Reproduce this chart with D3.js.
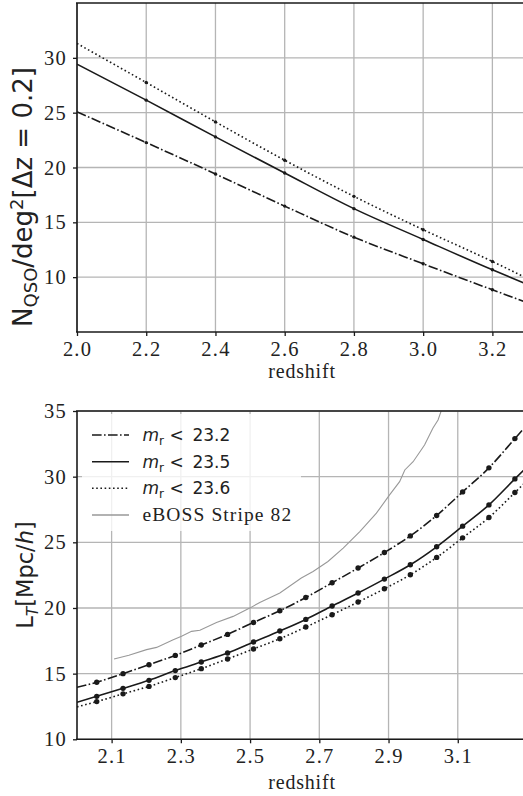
<!DOCTYPE html>
<html><head><meta charset="utf-8">
<script src="https://cdn.jsdelivr.net/npm/d3@7"></script>
<style>body{margin:0;background:#fff}svg{display:block}.serif{font-family:'Liberation Serif',serif}</style>
</head><body>
<svg id="c" width="523" height="796"></svg>
<script>
// ---------- data: top panel (N_QSO per deg^2 per dz=0.2) ----------
const topZ = [2.0, 2.2, 2.4, 2.6, 2.8, 3.0, 3.2, 3.3];
const topMarkZ = [2.2, 2.4, 2.6, 2.8, 3.0, 3.2];
const topDash = [25.07, 22.27, 19.41, 16.48, 13.65, 11.22, 8.85, 7.68];
const topSolid = [29.42, 26.14, 22.79, 19.50, 16.25, 13.44, 10.67, 9.35];
const topDot = [31.31, 27.75, 24.16, 20.66, 17.37, 14.33, 11.43, 9.90];
const topXTicks = [2.0, 2.2, 2.4, 2.6, 2.8, 3.0, 3.2];
const topYTicks = [10, 15, 20, 25, 30];

// ---------- data: bottom panel (L_T in Mpc/h) ----------
const botMarkZ = [2.057, 2.133, 2.208, 2.284, 2.359, 2.435, 2.510, 2.586, 2.661, 2.737, 2.812, 2.888, 2.963, 3.039, 3.114, 3.190, 3.265];
const botDash = [14.34, 15.00, 15.68, 16.39, 17.18, 17.99, 18.90, 19.79, 20.80, 21.92, 23.04, 24.22, 25.49, 27.04, 28.84, 30.67, 32.90];
const botSolid = [13.27, 13.88, 14.49, 15.23, 15.89, 16.57, 17.41, 18.25, 19.13, 20.15, 21.14, 22.20, 23.29, 24.66, 26.23, 27.85, 29.83];
const botDot = [12.87, 13.46, 14.03, 14.70, 15.38, 16.12, 16.88, 17.66, 18.55, 19.49, 20.45, 21.46, 22.53, 23.85, 25.34, 26.89, 28.79];
const botEnds = { z0: 2.0, z1: 3.3, dash: [13.96, 33.95], solid: [12.82, 30.75], dot: [12.47, 29.70] };
const ebossZ = [2.107, 2.150, 2.201, 2.230, 2.278, 2.302, 2.331, 2.355, 2.403, 2.451, 2.499, 2.528, 2.586, 2.648, 2.682, 2.725, 2.769, 2.817, 2.865, 2.903, 2.932, 2.947, 2.971, 3.004, 3.028, 3.043, 3.060];
const ebossL = [16.12, 16.40, 16.83, 17.00, 17.58, 17.84, 18.22, 18.30, 18.90, 19.36, 19.99, 20.42, 21.14, 22.28, 22.78, 23.54, 24.56, 25.82, 27.22, 28.61, 29.62, 30.51, 31.14, 32.41, 33.68, 34.32, 35.60];
const botXTicks = [2.1, 2.3, 2.5, 2.7, 2.9, 3.1];
const botYTicks = [10, 15, 20, 25, 30, 35];
const legendLabels = ["23.2", "23.5", "23.6", "eBOSS Stripe 82"];

// ---------- drawing ----------
const svg = d3.select("#c");
const INK = "#1a1a1a", GRID = "#b5b5b5";
const SERIF = "'Liberation Serif', serif", SANS = "'DejaVu Sans', sans-serif";
const L = 77, R = 527;

function panel(top, bottom, yDomain, xTicks, yTicks, id) {
  const x = d3.scaleLinear().domain([2.0, 3.3]).range([L, R]);
  const y = d3.scaleLinear().domain(yDomain).range([bottom, top]);
  const g = svg.append("g");
  g.append("clipPath").attr("id", id).append("rect")
    .attr("x", L).attr("y", top).attr("width", R - L).attr("height", bottom - top);
  g.selectAll(".gx").data(xTicks).join("line")
    .attr("x1", d => x(d)).attr("x2", d => x(d)).attr("y1", top).attr("y2", bottom)
    .attr("stroke", GRID).attr("stroke-width", 1.3);
  g.selectAll(".gy").data(yTicks).join("line")
    .attr("x1", L).attr("x2", R).attr("y1", d => y(d)).attr("y2", d => y(d))
    .attr("stroke", GRID).attr("stroke-width", 1.3);
  const plot = g.append("g").attr("clip-path", `url(#${id})`);
  return { x, y, g, plot, top, bottom };
}

function axes(p, xTicks, yTicks, xFmt, yFmt, xLabelY) {
  const ax = p.g.append("g").attr("transform", `translate(0,${p.bottom})`)
    .call(d3.axisBottom(p.x).tickValues(xTicks).tickFormat(xFmt).tickSizeInner(4).tickSizeOuter(0).tickPadding(5));
  const ay = p.g.append("g").attr("transform", `translate(${L},0)`)
    .call(d3.axisLeft(p.y).tickValues(yTicks).tickFormat(yFmt).tickSizeInner(4).tickSizeOuter(0).tickPadding(6));
  [ax, ay].forEach(a => {
    a.attr("font-family", SERIF).attr("font-size", 20.5).attr("class", "serif");
    a.select(".domain").remove();
    a.selectAll(".tick line").attr("stroke", INK).attr("stroke-width", 1.3);
    a.selectAll(".tick text").attr("fill", "#222").attr("class", "serif")
      .style("font-family", SERIF).style("font-size", "20.5px").style("letter-spacing", "1.2px");
  });
  ax.selectAll(".tick text").attr("dy", "0.71em");
  p.g.append("line").attr("x1", L).attr("x2", L).attr("y1", p.top).attr("y2", p.bottom).attr("stroke", INK).attr("stroke-width", 1.6);
  p.g.append("line").attr("x1", L - 1).attr("x2", R).attr("y1", p.bottom).attr("y2", p.bottom).attr("stroke", INK).attr("stroke-width", 1.6);
  p.g.append("line").attr("x1", L - 1).attr("x2", R).attr("y1", p.top).attr("y2", p.top).attr("stroke", INK).attr("stroke-width", 1.6);
  p.g.append("text").attr("class", "serif").attr("x", (L + 523) / 2 + 2).attr("y", xLabelY).attr("text-anchor", "middle")
    .style("font-family", SERIF).style("font-size", "20px").style("letter-spacing", "0.8px").attr("fill", "#222").text("redshift");
}

function centerVertical(t, cy) {
  const w = t.node().getComputedTextLength();
  t.attr("x", -cy - w / 2);
}

const styles = {
  dash: { dash: "9.6,2.4,1.6,2.4", w: 1.6 },
  solid: { dash: null, w: 1.6 },
  dot: { dash: "1.6,2.6", w: 1.6 }
};

// ---------- top panel ----------
const pt = panel(3, 332, [5, 35], topXTicks, topYTicks, "clipTop");
const lineTop = d3.line().x(d => pt.x(d[0])).y(d => pt.y(d[1])).curve(d3.curveMonotoneX);
[["dash", topDash], ["solid", topSolid], ["dot", topDot]].forEach(([k, vals]) => {
  pt.plot.append("path").datum(topZ.map((z, i) => [z, vals[i]]))
    .attr("d", lineTop).attr("fill", "none").attr("stroke", INK)
    .attr("stroke-width", styles[k].w).attr("stroke-dasharray", styles[k].dash);
  pt.plot.selectAll(null).data(topMarkZ).join("circle")
    .attr("cx", d => pt.x(d)).attr("cy", d => pt.y(vals[topZ.indexOf(d)]))
    .attr("r", 1.7).attr("fill", INK);
});
axes(pt, topXTicks, topYTicks, d3.format(".1f"), d3.format("d"), 378);
(function () {
  const t = svg.append("text").attr("transform", "translate(32,0) rotate(-90)")
    .attr("font-family", SANS).attr("font-size", 26).attr("fill", "#222");
  t.append("tspan").text("N");
  t.append("tspan").attr("dy", 5).attr("font-size", 18).text("QSO");
  t.append("tspan").attr("dy", -5).text("/deg");
  t.append("tspan").attr("dy", -9).attr("font-size", 18).text("2");
  t.append("tspan").attr("dy", 9).text("[Δz = 0.2]");
  centerVertical(t, 197);
})();

// ---------- bottom panel ----------
const pb = panel(411, 739.3, [10, 35], botXTicks, botYTicks, "clipBot");
const lineBot = d3.line().x(d => pb.x(d[0])).y(d => pb.y(d[1])).curve(d3.curveMonotoneX);
pb.plot.append("path").datum(ebossZ.map((z, i) => [z, ebossL[i]]))
  .attr("d", d3.line().x(d => pb.x(d[0])).y(d => pb.y(d[1])))
  .attr("fill", "none").attr("stroke", "#999").attr("stroke-width", 1.1);
[["dash", botDash], ["solid", botSolid], ["dot", botDot]].forEach(([k, vals]) => {
  const pts = [[botEnds.z0, botEnds[k][0]]].concat(botMarkZ.map((z, i) => [z, vals[i]]), [[botEnds.z1, botEnds[k][1]]]);
  pb.plot.append("path").datum(pts).attr("d", lineBot).attr("fill", "none").attr("stroke", INK)
    .attr("stroke-width", styles[k].w).attr("stroke-dasharray", styles[k].dash);
  pb.plot.selectAll(null).data(botMarkZ.map((z, i) => [z, vals[i]])).join("circle")
    .attr("cx", d => pb.x(d[0])).attr("cy", d => pb.y(d[1])).attr("r", 2.7).attr("fill", INK);
});
axes(pb, botXTicks, botYTicks, d3.format(".1f"), d3.format("d"), 789);
(function () {
  const lg = svg.append("g");
  lg.append("rect").attr("x", 82).attr("y", 414).attr("width", 219).attr("height", 117)
    .attr("fill", "#fff").attr("fill-opacity", 0.8);
  const rows = [435, 461.7, 488.3, 515];
  const ks = ["dash", "solid", "dot"];
  rows.forEach((ry, i) => {
    const ln = lg.append("line").attr("x1", 92).attr("x2", 129).attr("y1", ry).attr("y2", ry);
    if (i < 3) {
      ln.attr("stroke", INK).attr("stroke-width", 1.6).attr("stroke-dasharray", styles[ks[i]].dash);
      const t = lg.append("text").attr("x", 142.5).attr("y", ry + 6).attr("font-family", SANS)
        .attr("font-size", 17).attr("fill", "#222");
      t.append("tspan").attr("font-style", "italic").text("m");
      t.append("tspan").attr("dy", 4).attr("font-size", 12).text("r");
      t.append("tspan").attr("dy", -4).text(" < \u2009" + legendLabels[i]);
    } else {
      ln.attr("stroke", "#999").attr("stroke-width", 1.6);
      lg.append("text").attr("class", "serif").attr("x", 142.5).attr("y", ry + 6)
        .style("font-family", SERIF).style("font-size", "19.5px").style("letter-spacing", "1.1px")
        .attr("fill", "#222").text(legendLabels[i]);
    }
  });
})();
(function () {
  const t = svg.append("text").attr("transform", "translate(33,0) rotate(-90)")
    .attr("font-family", SANS).attr("font-size", 22.5).attr("fill", "#222");
  t.append("tspan").text("L");
  t.append("tspan").attr("dy", 5).attr("font-size", 15.5).attr("font-style", "italic").text("T");
  t.append("tspan").attr("dy", -5).text("[Mpc/");
  t.append("tspan").attr("font-style", "italic").text("h");
  t.append("tspan").text("]");
  centerVertical(t, 575);
})();
</script>
</body></html>
